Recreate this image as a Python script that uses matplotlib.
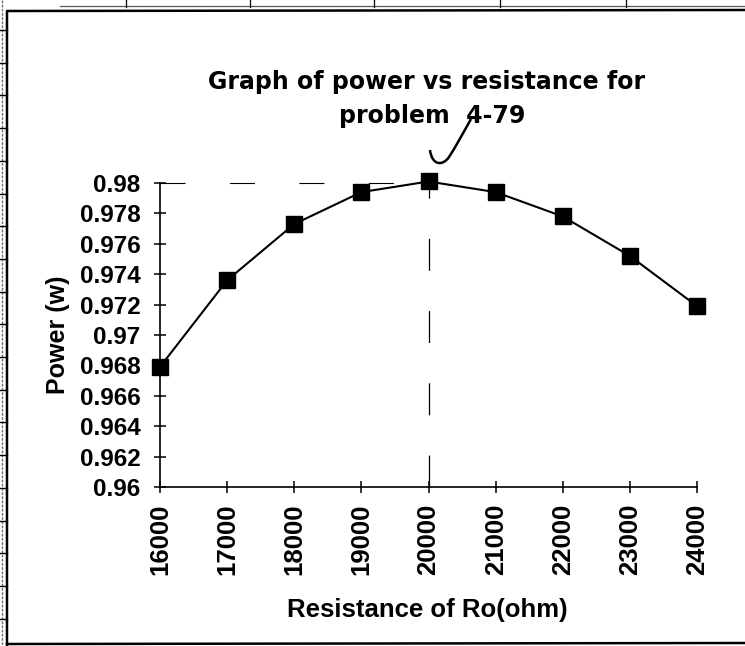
import numpy as np
import matplotlib
matplotlib.use("Agg")
import matplotlib.pyplot as plt
from matplotlib.path import Path
from matplotlib.patches import PathPatch
from matplotlib.lines import Line2D

## Data
resistance = [16000, 17000, 18000, 19000, 20000, 21000, 22000, 23000, 24000]
power = [0.9679, 0.9736, 0.9773, 0.9794, 0.9801, 0.9794, 0.9778, 0.9752, 0.9719]
y_ticks = [0.96, 0.962, 0.964, 0.966, 0.968, 0.97, 0.972, 0.974, 0.976, 0.978, 0.98]
y_tick_labels = ["0.96", "0.962", "0.964", "0.966", "0.968", "0.97",
                 "0.972", "0.974", "0.976", "0.978", "0.98"]
x_tick_labels = [str(r) for r in resistance]
r_peak = 20000
p_peak = 0.98

W, H = 745, 646
plt.rcParams['lines.scale_dashes'] = False
lab_font = "Liberation Sans"

def px(x, y):
    # pixel position (from top left) -> figure fraction
    return (x / W, 1 - y / H)

fig = plt.figure(figsize=(W / 100, H / 100), dpi=100)
ax_l, ax_r, ax_t, ax_b = 160, 697, 183, 487
ax = fig.add_axes([ax_l / W, 1 - ax_b / H, (ax_r - ax_l) / W, (ax_b - ax_t) / H])

ax.plot(resistance, power, 'k-', linewidth=1.5, marker='s', markersize=11.5,
        markerfacecolor='k', markeredgecolor='k', clip_on=False, zorder=5)

# dashed guide lines to the maximum
ax.plot([16000, r_peak], [p_peak, p_peak], color='k', linewidth=0.8,
        linestyle=(0, (18, 32)), clip_on=False, zorder=3)
ax.plot([r_peak, r_peak], [0.96, p_peak], color='k', linewidth=0.9,
        linestyle=(0, (23, 29)), clip_on=False, zorder=3)

ax.set_xlim(16000, 24000)
ax.set_ylim(0.96, 0.98)
ax.set_xticks(resistance)
ax.set_xticklabels(x_tick_labels, rotation=90, fontsize=18.5,
                   fontweight='bold', family=lab_font)
ax.set_yticks(y_ticks)
ax.set_yticklabels(y_tick_labels, fontsize=17.5, fontweight='bold',
                   family=lab_font)
ax.tick_params(axis='both', direction='inout', length=8, width=1.1)
ax.tick_params(axis='y', pad=10)
ax.tick_params(axis='x', pad=8)
for s in ['top', 'right']:
    ax.spines[s].set_visible(False)
for s in ['left', 'bottom']:
    ax.spines[s].set_linewidth(1.2)

ax_w, ax_h = ax_r - ax_l, ax_b - ax_t
ax.set_xlabel("Resistance of Ro(ohm)", fontsize=18.5, fontweight='bold',
              family=lab_font)
ax.xaxis.set_label_coords((427 - ax_l) / ax_w, 1 - (610 - ax_t) / ax_h)
ax.xaxis.label.set_va('center')
ax.set_ylabel("Power (w)", fontsize=18, fontweight='bold', family=lab_font)
ax.yaxis.set_label_coords((58 - ax_l) / ax_w, 0.5)
ax.yaxis.label.set_va('center')

# title, two lines
fig.text(*px(427, 89), "Graph of power vs resistance for", ha='center',
         va='baseline', fontsize=17, fontweight='bold', family='DejaVu Sans')
fig.text(*px(432, 123), "problem  4-79", ha='center', va='baseline',
         fontsize=17, fontweight='bold', family='DejaVu Sans')

# hand drawn hook pointing at the peak
verts = [px(471, 119), px(462, 135), px(455, 148), px(449, 157),
         px(443, 166), px(432, 166), px(430, 150)]
codes = [Path.MOVETO] + [Path.CURVE4] * 6
fig.patches.append(PathPatch(Path(verts, codes), transform=fig.transFigure,
                             facecolor='none', edgecolor='k', linewidth=1.8))

# chart area frame and scanned page edges
def fline(xs, ys, **kw):
    pts = [px(x, y) for x, y in zip(xs, ys)]
    fig.lines.append(Line2D([p[0] for p in pts], [p[1] for p in pts],
                            transform=fig.transFigure, **kw))

fline([7, 7, 745], [645, 11, 10], color='k', linewidth=1.8)
fline([7, 745], [644, 643], color='k', linewidth=1.8)
fline([2, 2], [0, 646], color='0.45', linewidth=1.0, linestyle=(0, (2, 1)))
fline([60, 745], [6, 6], color='0.35', linewidth=0.9)
for xt in [126, 250, 374, 500, 626]:
    fline([xt, xt], [0, 7], color='k', linewidth=0.9)
for i in range(19):
    yt = 30 + i * 32.7
    fline([0, 7], [yt, yt], color='k', linewidth=1.0)

fig.savefig("out.png", dpi=100)
